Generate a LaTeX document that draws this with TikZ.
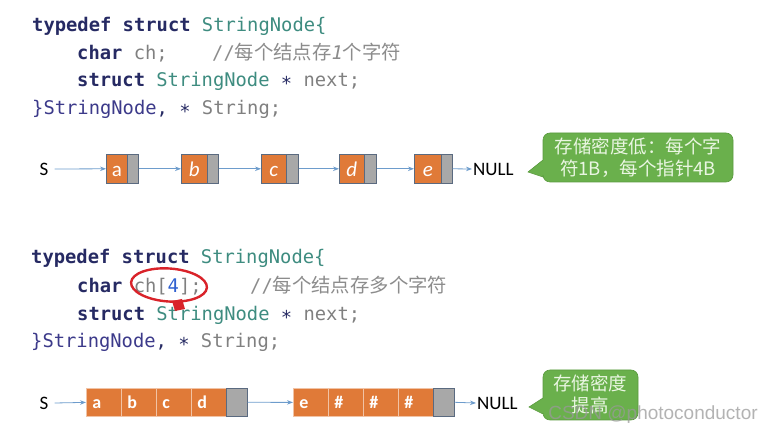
\documentclass[tikz,border=0pt]{standalone}
\usepackage{fontspec}
\setmainfont{Carlito}
\setmonofont{DejaVu Sans Mono}
\newfontfamily\cjk{Noto Sans CJK SC}
\newfontfamily\cjkm[Scale=1.03]{Noto Sans CJK SC}
\newfontfamily\wmfont{Liberation Sans}
\usetikzlibrary{arrows.meta}
\definecolor{kw}{HTML}{262A63}
\definecolor{ty}{HTML}{3E8C80}
\definecolor{idg}{HTML}{808080}
\definecolor{cmt}{HTML}{8C8C8C}
\definecolor{pur}{HTML}{3C3A8A}
\definecolor{num}{HTML}{3060D0}
\definecolor{org}{HTML}{E07A38}
\definecolor{gry}{HTML}{A8A8A8}
\definecolor{bd}{HTML}{5A6A80}
\definecolor{arr}{HTML}{6D9CCC}
\definecolor{grn}{HTML}{6AB04C}
\definecolor{grnd}{HTML}{5A9A3E}
\definecolor{ctxt}{HTML}{EAF6E2}
\definecolor{redann}{HTML}{D9232A}
\newcommand{\lowb}[1]{\makebox[23pt][l]{#1}}
\begin{document}
\begin{tikzpicture}[x=1pt,y=-1pt,
  code/.style={anchor=base west, inner sep=0, font=\fontsize{18.8}{20}\selectfont\ttfamily},
  cell/.style={draw=bd, line width=0.6, inner sep=0, minimum height=29, anchor=north west,
    text height=15pt, text depth=0pt,
    text=white, font=\fontsize{21}{22}\selectfont},
  cellb/.style={draw=org!45!white, line width=0.8, fill=org, inner xsep=6pt, inner ysep=0,
    minimum width=35, minimum height=28, anchor=north west, text height=12pt, text depth=0pt,
    text=white, font=\fontsize{18}{20}\selectfont\bfseries},
  cellg/.style={draw=bd, line width=0.6, fill=gry, inner sep=0, minimum width=21,
    minimum height=28, anchor=north west},
  lbl/.style={inner sep=1pt, font=\fontsize{19}{20}\selectfont},
  link/.style={draw=arr, line width=0.8, -{Stealth[length=6pt,width=4.5pt]}},
  callout/.style={fill=grn, draw=grnd, line width=0.6},
  ctext/.style={inner sep=0, text=ctxt, align=center, font=\fontsize{18.5}{22}\selectfont\cjk}
]
\useasboundingbox (0,0) rectangle (774,435);

% ---------- code block 1 ----------
\node[code] (c11) at (32,32) {\textbf{\textcolor{kw}{typedef struct}} \textcolor{ty}{StringNode\{}};
\node[code] (c12) at (77,59.5) {\textbf{\textcolor{kw}{char}} \textcolor{idg}{ch;}};
\node[code] (c12c) at (212,59.5) {\textcolor{cmt}{//{\cjkm 每个结点存}{\itshape 1}{\cjkm 个字符}}};
\node[code] (c13) at (77,87) {\textbf{\textcolor{kw}{struct}} \textcolor{ty}{StringNode} \textcolor{kw}{∗} \textcolor{idg}{next;}};
\node[code] (c14) at (32,114.5) {\textcolor{pur}{\}StringNode}\textcolor{kw}{,} \textcolor{kw}{∗} \textcolor{idg}{String;}};

% ---------- list 1 ----------
\node[lbl] (s1) at (44,169) {S};
\node[cell, fill=org, minimum width=21] (a) at (106,154) {a};
\node[cell, fill=gry, minimum width=11] (ap) at (127,154) {};
\node[cell, fill=org, minimum width=26] (b) at (181,154) {\itshape b};
\node[cell, fill=gry, minimum width=11] (bp) at (207,154) {};
\node[cell, fill=org, minimum width=25] (c) at (261,154) {\itshape c};
\node[cell, fill=gry, minimum width=12] (cp) at (286,154) {};
\node[cell, fill=org, minimum width=25] (d) at (339,154) {\itshape d};
\node[cell, fill=gry, minimum width=12] (dp) at (364,154) {};
\node[cell, fill=org, minimum width=27] (e) at (414,154) {\itshape e};
\node[cell, fill=gry, minimum width=11] (ep) at (441,154) {};
\node[lbl, anchor=west] (n1) at (472,169) {NULL};
\draw[link] (s1.east) ++(5,0) -- (a.west);
\draw[link] (ap.east) -- (b.west);
\draw[link] (bp.east) -- (c.west);
\draw[link] (cp.east) -- (d.west);
\draw[link] (dp.east) -- (e.west);
\draw[link] (ep.east) -- (n1.west);

% ---------- callout 1 ----------
\draw[callout, rounded corners=7] (543,160) -- (543,133) -- (733,133) -- (733,182) -- (543,182)
  [sharp corners] -- (543,177) -- (528,172) -- cycle;
\node[ctext] (t1) at (638,158) {存储密度低：每个字\\符1B，每个指针4B};

% ---------- code block 2 ----------
\node[code] (c21) at (31,264) {\textbf{\textcolor{kw}{typedef struct}} \textcolor{ty}{StringNode\{}};
\node[code] (c22) at (77,293) {\textbf{\textcolor{kw}{char}} \textcolor{idg}{ch[}\textcolor{num}{4}\textcolor{idg}{];}};
\node[code] (c22c) at (250,293) {\textcolor{cmt}{//{\cjkm 每个结点存多个字符}}};
\node[code] (c23) at (77,321) {\textbf{\textcolor{kw}{struct}} \textcolor{ty}{StringNode} \textcolor{kw}{∗} \textcolor{idg}{next;}};
\node[code] (c24) at (31,348) {\textcolor{pur}{\}StringNode}\textcolor{kw}{,} \textcolor{kw}{∗} \textcolor{idg}{String;}};
\draw[redann, line width=2.4, rotate around={-4:(169,285)}] (169,285) ellipse [x radius=38, y radius=16.5];
\fill[redann] (172,301) -- (182,299) -- (185,309) -- (175,311) -- cycle;

% ---------- list 2 ----------
\node[lbl] (s2) at (44,403) {S};
\node[cellb] (x1) at (86,388) {\lowb{a}};
\node[cellb] (x2) at (121,388) {\lowb{b}};
\node[cellb] (x3) at (156,388) {\lowb{c}};
\node[cellb] (x4) at (191,388) {\lowb{d}};
\node[cellg] (xp) at (226,388) {};
\node[cellb] (y1) at (293,388) {\lowb{e}};
\node[cellb] (y2) at (328,388) {\lowb{\#}};
\node[cellb] (y3) at (363,388) {\lowb{\#}};
\node[cellb] (y4) at (398,388) {\lowb{\#}};
\node[cellg] (yp) at (433,388) {};
\node[lbl, anchor=west] (n2) at (476,403) {NULL};
\draw[link] (s2.east) ++(5,0) -- (x1.west);
\draw[link] (xp.east) -- (y1.west);
\draw[link] (yp.east) -- (n2.west);

% ---------- callout 2 ----------
\draw[callout, rounded corners=7] (543,398) -- (543,370) -- (638,370) -- (638,420) -- (543,420)
  [sharp corners] -- (543,414) -- (529,407) -- cycle;
\node[ctext] (t2) at (590,394) {存储密度\\提高};

% ---------- watermark ----------
\node[inner sep=0, text=gray!80, opacity=0.75, font=\fontsize{19}{20}\selectfont\wmfont] (wm) at (653,415) {CSDN @photoconductor};
\end{tikzpicture}
\end{document}
